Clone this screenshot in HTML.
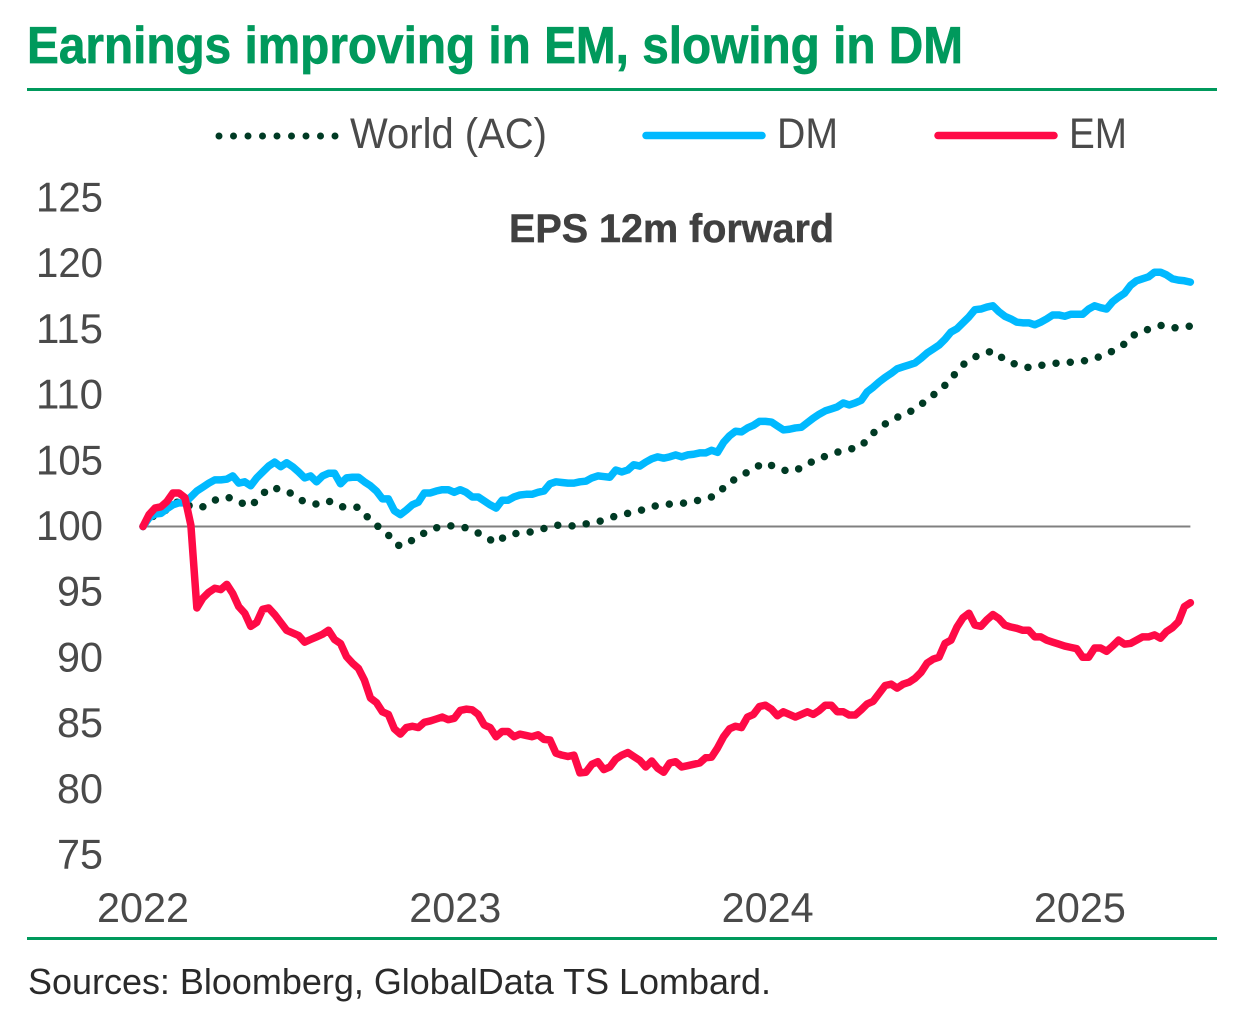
<!DOCTYPE html>
<html lang="en">
<head>
<meta charset="utf-8">
<title>Earnings improving in EM, slowing in DM</title>
<style>
html,body{margin:0;padding:0;background:#fff;}
svg{display:block;}
text{font-family:"Liberation Sans",sans-serif;fill:#4a4a4a;}
</style>
</head>
<body>
<svg id="chart" xmlns="http://www.w3.org/2000/svg" width="1248" height="1020" viewBox="0 0 1248 1020">
  <rect x="0" y="0" width="1248" height="1020" fill="#ffffff"/>
  <text x="27" y="63" font-size="52" font-weight="700" style="fill:#00995c;stroke:#00995c;stroke-width:0.7" textLength="936" lengthAdjust="spacingAndGlyphs">Earnings improving in EM, slowing in DM</text>
  <rect x="27" y="88" width="1190" height="3" fill="#00995c"/>

  <g>
    <g>
      <line x1="219" y1="136" x2="336" y2="136" stroke="#003a24" stroke-width="7" stroke-linecap="round" stroke-dasharray="0 14.5"/>
      <text x="350" y="148" font-size="43" textLength="197" lengthAdjust="spacingAndGlyphs">World (AC)</text>
    </g>
    <g>
      <line x1="646" y1="135.5" x2="762" y2="135.5" stroke="#00b9ff" stroke-width="7.5" stroke-linecap="round"/>
      <text x="777" y="148" font-size="43" textLength="61" lengthAdjust="spacingAndGlyphs">DM</text>
    </g>
    <g>
      <line x1="938" y1="135.5" x2="1054" y2="135.5" stroke="#ff0a46" stroke-width="7.5" stroke-linecap="round"/>
      <text x="1069" y="148" font-size="43" textLength="58" lengthAdjust="spacingAndGlyphs">EM</text>
    </g>
  </g>

  <text x="509" y="242" font-size="40" font-weight="700" style="fill:#404040;stroke:#404040;stroke-width:0.5" textLength="325" lengthAdjust="spacingAndGlyphs">EPS 12m forward</text>

  <g id="y-axis"></g>
  <g id="x-axis"></g>
  <g id="plot"></g>

  <rect x="27" y="937" width="1190" height="3" fill="#00995c"/>
  <text x="28" y="994" font-size="36" style="fill:#2a2a2a" textLength="743" lengthAdjust="spacingAndGlyphs">Sources: Bloomberg, GlobalData TS Lombard.</text>
</svg>

<script>
const yTicks = [125,120,115,110,105,100,95,90,85,80,75];
const xYears = [2022,2023,2024,2025];
const weeksPerYear = 52.18;

const worldValues = [
100,100.5,100.9,101.0,101.3,101.5,102.0,101.7,101.55,101.4,101.5,101.8,102.0,102.15,102.25,102.1,101.95,101.65,101.55,102.0,
102.45,102.95,102.9,102.85,102.7,102.45,102.15,101.85,101.8,101.7,101.8,101.95,101.7,101.5,101.5,101.5,101.45,100.95,100.5,100.1,
99.75,99.35,98.75,98.5,98.75,98.95,99.3,99.5,99.75,99.9,100.0,100.05,100.05,99.95,99.9,99.75,99.5,99.3,99.0,98.75,
99.1,99.35,99.45,99.5,99.55,99.6,99.75,99.85,99.95,100.1,100.1,100.05,100.05,100.1,100.2,100.25,100.35,100.5,100.65,100.8,
100.85,101.0,101.1,101.2,101.35,101.5,101.6,101.7,101.7,101.7,101.75,101.85,101.95,102.0,102.1,102.25,102.45,102.95,103.4,103.6,
103.85,104.15,104.45,104.65,104.85,104.65,104.45,104.3,104.2,104.25,104.5,104.7,105.0,105.15,105.35,105.5,105.65,105.8,105.9,105.95,
106.1,106.65,107.1,107.5,107.8,108.1,108.3,108.55,108.7,108.95,109.3,109.6,110.0,110.3,110.75,111.3,111.75,112.3,112.65,112.9,
113.1,113.25,113.35,113.05,112.65,112.5,112.3,112.2,112.1,112.1,112.25,112.35,112.4,112.45,112.5,112.5,112.55,112.6,112.65,112.8,
112.95,113.15,113.35,113.6,113.9,114.4,114.7,114.9,115.0,115.15,115.3,115.25,115.1,115.15,115.2,115.25];

const dmValues = [
100,100.65,100.95,101.0,101.35,101.65,101.8,101.8,102.25,102.7,103.0,103.3,103.55,103.55,103.6,103.85,103.3,103.4,103.1,103.7,
104.15,104.6,104.9,104.55,104.85,104.55,104.15,103.7,103.85,103.4,103.85,104.05,104.05,103.25,103.7,103.75,103.75,103.4,103.1,102.7,
102.1,102.1,101.2,100.9,101.25,101.65,101.85,102.55,102.55,102.7,102.8,102.8,102.6,102.8,102.6,102.25,102.25,101.95,101.65,101.4,
102.0,102.0,102.25,102.4,102.45,102.45,102.6,102.7,103.25,103.4,103.35,103.3,103.3,103.4,103.45,103.7,103.85,103.8,103.75,104.3,
104.15,104.3,104.7,104.6,104.9,105.15,105.3,105.2,105.3,105.45,105.3,105.45,105.5,105.6,105.6,105.8,105.65,106.4,106.9,107.25,
107.2,107.5,107.7,108.0,108.0,107.95,107.65,107.35,107.4,107.5,107.55,107.9,108.25,108.55,108.8,108.95,109.1,109.4,109.25,109.4,
109.6,110.25,110.6,111.0,111.35,111.65,112.0,112.15,112.3,112.45,112.8,113.2,113.5,113.8,114.25,114.8,115.05,115.5,115.95,116.5,
116.55,116.7,116.8,116.35,116.0,115.8,115.55,115.5,115.5,115.35,115.55,115.8,116.1,116.1,116.0,116.15,116.15,116.15,116.55,116.8,
116.65,116.55,117.1,117.45,117.75,118.35,118.7,118.85,119.0,119.35,119.35,119.15,118.85,118.75,118.7,118.6];

const emValues = [
100,100.9,101.4,101.5,101.9,102.55,102.55,102.2,100.1,93.8,94.55,95.0,95.3,95.2,95.6,94.9,93.9,93.4,92.4,92.7,
93.7,93.8,93.3,92.7,92.1,91.9,91.7,91.2,91.4,91.6,91.8,92.1,91.4,91.1,90.1,89.6,89.2,88.3,86.95,86.6,
85.9,85.7,84.6,84.2,84.7,84.8,84.7,85.1,85.2,85.35,85.5,85.3,85.4,86.0,86.1,86.05,85.7,84.9,84.7,84.0,
84.4,84.4,84.0,84.2,84.1,84.0,84.15,83.8,83.75,82.75,82.6,82.5,82.6,81.25,81.3,81.9,82.1,81.5,81.7,82.3,
82.6,82.8,82.5,82.2,81.7,82.15,81.6,81.3,82.0,82.1,81.7,81.8,81.9,82.0,82.4,82.45,83.15,84.0,84.6,84.8,
84.7,85.5,85.7,86.3,86.4,86.1,85.6,85.9,85.7,85.5,85.7,85.9,85.7,86.0,86.4,86.4,85.9,85.9,85.65,85.65,
86.05,86.5,86.7,87.3,87.9,88.0,87.7,88.0,88.15,88.45,88.9,89.6,89.9,90.05,91.1,91.35,92.35,93.05,93.4,92.5,
92.4,92.9,93.3,93.0,92.5,92.35,92.25,92.1,92.1,91.6,91.6,91.35,91.2,91.05,90.9,90.8,90.7,90.05,90.05,90.75,
90.75,90.5,90.9,91.35,91.05,91.1,91.35,91.6,91.6,91.75,91.5,92.0,92.3,92.75,93.9,94.2];

const baselineValue = 100;

const NS = 'http://www.w3.org/2000/svg';
function xScale(week){ return 143 + week * 5.985; }
function yScale(value){ return 526.5 - (value - 100) * 13.14; }
function yearToWeek(year){ return (year - xYears[0]) * weeksPerYear; }
function linePath(values){
  return values.map(function(v,i){
    return (i ? 'L' : 'M') + xScale(i).toFixed(2) + ' ' + yScale(v).toFixed(2);
  }).join(' ');
}

const yAxis = document.getElementById('y-axis');
yTicks.forEach(function(tick){
  const label = document.createElementNS(NS,'text');
  
  
  label.setAttribute('font-size','42');
  label.setAttribute('text-anchor','end');
  label.setAttribute('x','103');
  label.setAttribute('y',(yScale(tick)+13.5).toFixed(1));
  label.setAttribute('textLength', tick >= 100 ? '67' : '46');
  label.setAttribute('lengthAdjust','spacingAndGlyphs');
  label.textContent = tick;
  yAxis.appendChild(label);
});

const xAxis = document.getElementById('x-axis');
xYears.forEach(function(year){
  const label = document.createElementNS(NS,'text');
  
  
  label.setAttribute('font-size','42');
  label.setAttribute('text-anchor','middle');
  label.setAttribute('x',xScale(yearToWeek(year)).toFixed(1));
  label.setAttribute('y','922');
  label.setAttribute('textLength','92');
  label.setAttribute('lengthAdjust','spacingAndGlyphs');
  label.textContent = year;
  xAxis.appendChild(label);
});

const plot = document.getElementById('plot');

const baseline = document.createElementNS(NS,'line');


baseline.setAttribute('x1',xScale(0));
baseline.setAttribute('x2',xScale(emValues.length - 1));
baseline.setAttribute('y1',yScale(baselineValue));
baseline.setAttribute('y2',yScale(baselineValue));
baseline.setAttribute('stroke','#808080');
baseline.setAttribute('stroke-width','2');
plot.appendChild(baseline);

const worldLine = document.createElementNS(NS,'path');


worldLine.setAttribute('d',linePath(worldValues));
worldLine.setAttribute('fill','none');
worldLine.setAttribute('stroke','#003a24');
worldLine.setAttribute('stroke-width','7.5');
worldLine.setAttribute('stroke-linecap','round');
worldLine.setAttribute('stroke-dasharray','0 14.3');
plot.appendChild(worldLine);

const dmLine = document.createElementNS(NS,'path');


dmLine.setAttribute('d',linePath(dmValues));
dmLine.setAttribute('fill','none');
dmLine.setAttribute('stroke','#00b9ff');
dmLine.setAttribute('stroke-width','7.5');
dmLine.setAttribute('stroke-linecap','round');
dmLine.setAttribute('stroke-linejoin','round');
plot.appendChild(dmLine);

const emLine = document.createElementNS(NS,'path');


emLine.setAttribute('d',linePath(emValues));
emLine.setAttribute('fill','none');
emLine.setAttribute('stroke','#ff0a46');
emLine.setAttribute('stroke-width','7.5');
emLine.setAttribute('stroke-linecap','round');
emLine.setAttribute('stroke-linejoin','round');
plot.appendChild(emLine);
</script>
</body>
</html>
